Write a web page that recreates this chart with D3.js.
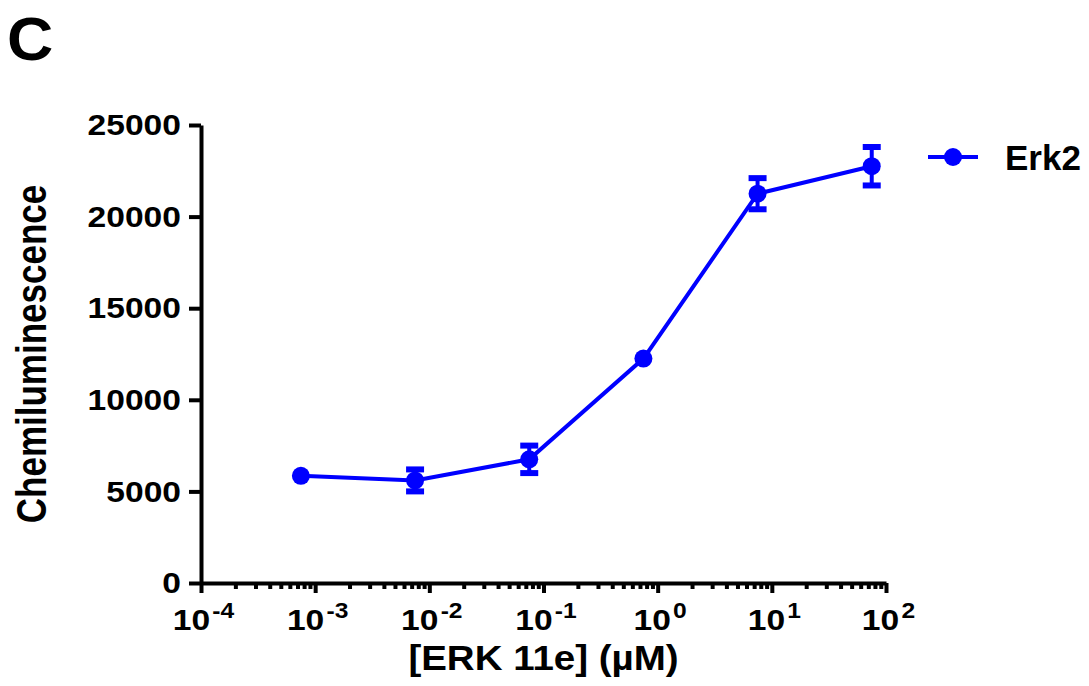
<!DOCTYPE html>
<html>
<head>
<meta charset="utf-8">
<script src="https://cdn.jsdelivr.net/npm/d3@7"></script>
<style>
    body { margin: 0; background: #fff; }
    svg text { font-family: Arial, "Liberation Sans", sans-serif; font-weight: bold; fill: #000; }
</style>
</head>
<body>
<svg id="chart" width="1089" height="686"></svg>
<script>
// Erk2 dose response
const concentrations = [0.00075, 0.0075, 0.075, 0.75, 7.5, 75];
const erk2Mean = [5850, 5600, 6750, 12250, 21250, 22750];
const erk2Err = [150, 600, 750, 200, 850, 1050];
const yTicks = [0, 5000, 10000, 15000, 20000, 25000];
const xDecades = [-4, -3, -2, -1, 0, 1, 2];
const seriesName = 'Erk2';

const blue = '#0000ff';
const markerRadius = 9;
// the original figure's lettering is a little wider than plain Arial
const stretch = 1.12;

const svg = d3.select('#chart');

const x = d3.scaleLog()
    .domain([1e-4, 1e2])
    .range([201, 886]);

const y = d3.scaleLinear()
    .domain([0, 25000])
    .range([583, 125]);

const points = concentrations.map((c, i) => ({
    x: c,
    y: erk2Mean[i],
    err: erk2Err[i]
}));

// Panel letter
svg.append('text')
    .attr('transform', 'translate(7,60) scale(1.05,1)')
    .attr('font-size', '61px')
    .text('C');

// Y axis
const yAxis = svg.append('g')
    .attr('transform', `translate(${x.range()[0]},0)`)
    .call(d3.axisLeft(y)
        .tickValues(yTicks)
        .tickSize(12)
        .tickSizeOuter(0)
        .tickPadding(8)
        .tickFormat(d3.format('d')));

yAxis.select('.domain').attr('stroke-width', 4).attr('stroke', '#000');
yAxis.selectAll('.tick line').attr('stroke-width', 4).attr('stroke', '#000');
yAxis.selectAll('.tick text')
    .attr('x', null)
    .attr('transform', `translate(-20,0) scale(${stretch},1)`)
    .attr('font-size', '30px')
    .attr('font-family', 'Arial, "Liberation Sans", sans-serif')
    .attr('font-weight', 'bold');

// X axis: minor ticks first, then decades with labels
const minorTicks = [];
xDecades.slice(0, -1).forEach(p => {
    for (let m = 2; m <= 9; m++) minorTicks.push(m * Math.pow(10, p));
});

const xMinor = svg.append('g')
    .attr('transform', `translate(0,${y(0)})`)
    .call(d3.axisBottom(x)
        .tickValues(minorTicks)
        .tickSize(6)
        .tickSizeOuter(0)
        .tickFormat(''));
xMinor.select('.domain').remove();
xMinor.selectAll('.tick line').attr('stroke-width', 4).attr('stroke', '#000');

const xAxis = svg.append('g')
    .attr('transform', `translate(0,${y(0)})`)
    .call(d3.axisBottom(x)
        .tickValues(xDecades.map(p => Math.pow(10, p)))
        .tickSize(10)
        .tickSizeOuter(0)
        .tickFormat(''));
xAxis.select('.domain').attr('stroke-width', 4).attr('stroke', '#000');
xAxis.selectAll('.tick line').attr('stroke-width', 4).attr('stroke', '#000');

// decade labels as 10 with a superscript exponent
xAxis.selectAll('.tick').each(function(d) {
    const p = Math.round(Math.log10(d));
    const label = d3.select(this).append('text')
        .attr('transform', `translate(2,47) scale(${stretch},1)`)
        .attr('text-anchor', 'middle')
        .attr('font-size', '30px')
        .attr('fill', '#000');
    label.append('tspan').text('10');
    label.append('tspan')
        .attr('dx', 2)
        .attr('dy', -12)
        .attr('font-size', '22px')
        .text(p < 0 ? '-' + Math.abs(p) : String(p));
});

// Axis titles
svg.append('text')
    .attr('transform', `translate(${(x.range()[0] + x.range()[1]) / 2},670) scale(1.1,1)`)
    .attr('text-anchor', 'middle')
    .attr('font-size', '35px')
    .text('[ERK 11e] (µM)');

svg.append('text')
    .attr('transform', `translate(46,${(y.range()[0] + y.range()[1]) / 2}) rotate(-90) scale(1,1.2)`)
    .attr('text-anchor', 'middle')
    .attr('font-size', '35px')
    .text('Chemiluminescence');

// Connecting line
const line = d3.line()
    .x(d => x(d.x))
    .y(d => y(d.y));

svg.append('path')
    .datum(points)
    .attr('d', line)
    .attr('fill', 'none')
    .attr('stroke', blue)
    .attr('stroke-width', 4);

// Error bars (hidden when shorter than the symbol, like Prism does)
const bars = svg.append('g')
    .selectAll('g')
    .data(points.filter(d => y(d.y - d.err) - y(d.y) > markerRadius))
    .enter()
    .append('g')
    .attr('stroke', blue);

bars.append('line')
    .attr('x1', d => x(d.x))
    .attr('x2', d => x(d.x))
    .attr('y1', d => y(d.y - d.err))
    .attr('y2', d => y(d.y + d.err))
    .attr('stroke-width', 4);

[-1, 1].forEach(sign => {
    bars.append('line')
        .attr('x1', d => x(d.x) - 9)
        .attr('x2', d => x(d.x) + 9)
        .attr('y1', d => y(d.y + sign * d.err))
        .attr('y2', d => y(d.y + sign * d.err))
        .attr('stroke-width', 6);
});

// Markers
svg.append('g')
    .selectAll('circle')
    .data(points)
    .enter()
    .append('circle')
    .attr('cx', d => x(d.x))
    .attr('cy', d => y(d.y))
    .attr('r', markerRadius)
    .attr('fill', blue);

// Legend
const legend = svg.append('g').attr('transform', 'translate(928,157)');
legend.append('line')
    .attr('x1', 0)
    .attr('x2', 50)
    .attr('stroke', blue)
    .attr('stroke-width', 4);
legend.append('circle')
    .attr('cx', 25)
    .attr('r', markerRadius)
    .attr('fill', blue);
legend.append('text')
    .attr('x', 77)
    .attr('y', 13)
    .attr('font-size', '35px')
    .text(seriesName);
</script>
</body>
</html>
